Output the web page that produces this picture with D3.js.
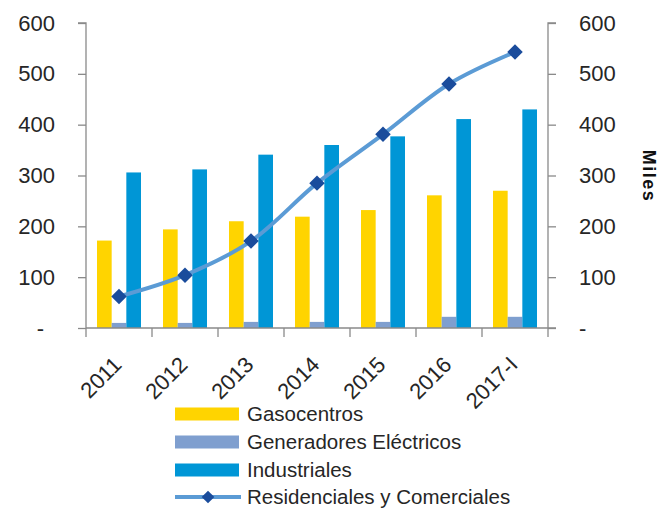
<!DOCTYPE html>
<html>
<head>
<meta charset="utf-8">
<script src="https://cdn.jsdelivr.net/npm/d3@7"></script>
<style>
  body { margin: 0; background: #fff; }
  svg { font-family: "Liberation Sans", Arial, sans-serif; }
</style>
</head>
<body>
<svg id="chart" width="661" height="512"></svg>
<script>
// data
const years = ["2011", "2012", "2013", "2014", "2015", "2016", "2017-I"];
const gasocentros = [172, 194, 210, 219, 232, 261, 270];
const generadores = [10, 10, 12, 12, 12, 22, 22];
const industriales = [306, 312, 341, 360, 377, 411, 430];
const residenciales = [62, 104, 171, 285, 381, 480, 543];
const yTicks = [0, 100, 200, 300, 400, 500, 600];
const seriesNames = ["Gasocentros", "Generadores Eléctricos", "Industriales", "Residenciales y Comerciales"];

const colors = {
  "Gasocentros": "#ffd400",
  "Generadores Eléctricos": "#7f9fcf",
  "Industriales": "#0096d6",
  "Residenciales y Comerciales": "#5b9bd5"
};
const markerColor = "#1a4c9c";
const axisColor = "#8a8a8a";
const textColor = "#262626";

const svg = d3.select("#chart");
const plotLeft = 86, plotRight = 548, plotTop = 23, plotBottom = 328;

const x0 = d3.scaleBand()
  .domain(years)
  .range([plotLeft, plotRight])
  .paddingInner(1 / 3)
  .paddingOuter(1 / 6);

const barKeys = ["Gasocentros", "Generadores Eléctricos", "Industriales"];
const x1 = d3.scaleBand()
  .domain(barKeys)
  .range([0, x0.bandwidth()]);

const y = d3.scaleLinear().domain([0, 600]).range([plotBottom, plotTop]);

const table = years.map((yr, i) => ({
  year: yr,
  "Gasocentros": gasocentros[i],
  "Generadores Eléctricos": generadores[i],
  "Industriales": industriales[i],
  "Residenciales y Comerciales": residenciales[i]
}));

// bars
svg.append("g")
  .selectAll("g")
  .data(table)
  .enter()
  .append("g")
  .attr("transform", d => `translate(${x0(d.year)},0)`)
  .selectAll("rect")
  .data(d => barKeys.map(k => ({ key: k, value: d[k] })))
  .enter()
  .append("rect")
  .attr("x", d => x1(d.key))
  .attr("y", d => y(d.value))
  .attr("width", x1.bandwidth())
  .attr("height", d => y(0) - y(d.value))
  .attr("fill", d => colors[d.key]);

// left axis
const leftAxis = svg.append("g")
  .attr("transform", `translate(${plotLeft},0)`)
  .call(d3.axisLeft(y).tickValues(yTicks).tickSize(8).tickPadding(23)
    .tickFormat(d => d === 0 ? "-" : d));
leftAxis.selectAll("text").filter(d => d === 0).attr("dx", -11);

// right axis
const rightAxis = svg.append("g")
  .attr("transform", `translate(${plotRight},0)`)
  .call(d3.axisRight(y).tickValues(yTicks).tickSize(8).tickPadding(23)
    .tickFormat(d => d === 0 ? "-" : d));

[leftAxis, rightAxis].forEach(ax => {
  ax.select(".domain").attr("stroke", axisColor).attr("stroke-width", 1.3)
    .attr("d", ax === leftAxis ? `M-8,${plotTop}H0V${plotBottom}` : `M8,${plotTop}H0V${plotBottom}`);
  ax.selectAll(".tick line").attr("stroke", axisColor).attr("stroke-width", 1.3);
  ax.selectAll("text").attr("fill", textColor).style("font-size", "22px");
});

// bottom axis: line plus ticks at category boundaries
const xAxis = svg.append("g");
xAxis.append("line")
  .attr("x1", plotLeft).attr("x2", plotRight + 8)
  .attr("y1", plotBottom).attr("y2", plotBottom)
  .attr("stroke", axisColor).attr("stroke-width", 1.3);
const bounds = years.map(d => x0(d) - x0.step() * x0.paddingInner() / 2).concat([plotRight]);
xAxis.selectAll(".xt")
  .data(bounds)
  .enter()
  .append("line")
  .attr("x1", d => d).attr("x2", d => d)
  .attr("y1", plotBottom).attr("y2", plotBottom + 9)
  .attr("stroke", axisColor).attr("stroke-width", 1.3);

xAxis.selectAll(".xl")
  .data(years)
  .enter()
  .append("text")
  .attr("transform", d => `translate(${x0(d) + x0.bandwidth() / 2 + 4},366) rotate(-45)`)
  .attr("text-anchor", "end")
  .attr("fill", textColor)
  .style("font-size", "22px")
  .text(d => d);

// line series
const cx = d => x0(d.year) + x0.bandwidth() / 2;
const line = d3.line()
  .x(cx)
  .y(d => y(d["Residenciales y Comerciales"]))
  .curve(d3.curveCatmullRom.alpha(0.5));

svg.append("path")
  .datum(table)
  .attr("d", line)
  .attr("fill", "none")
  .attr("stroke", colors["Residenciales y Comerciales"])
  .attr("stroke-width", 4)
  .attr("stroke-linecap", "round");

const diamond = d3.symbol().type(d3.symbolSquare).size(120);
svg.append("g")
  .selectAll("path")
  .data(table)
  .enter()
  .append("path")
  .attr("d", diamond)
  .attr("transform", d => `translate(${cx(d)},${y(d["Residenciales y Comerciales"])}) rotate(45)`)
  .attr("fill", markerColor);

// axis title on the right
svg.append("text")
  .attr("transform", "translate(643,176) rotate(90)")
  .attr("text-anchor", "middle")
  .attr("fill", "#111")
  .style("font-size", "18px")
  .style("font-weight", "bold")
  .style("letter-spacing", "1.5px")
  .text("Miles");

// legend
const legendRows = [414, 442, 470, 497];
const legend = svg.append("g");
seriesNames.forEach((name, i) => {
  const ly = legendRows[i];
  if (i < 3) {
    legend.append("rect")
      .attr("x", 175).attr("y", ly - 6.5)
      .attr("width", 64).attr("height", 13)
      .attr("fill", colors[name]);
  } else {
    legend.append("line")
      .attr("x1", 175).attr("x2", 241)
      .attr("y1", ly).attr("y2", ly)
      .attr("stroke", colors[name]).attr("stroke-width", 4);
    legend.append("path")
      .attr("d", d3.symbol().type(d3.symbolSquare).size(80))
      .attr("transform", `translate(208,${ly}) rotate(45)`)
      .attr("fill", markerColor);
  }
  legend.append("text")
    .attr("x", 247).attr("y", ly)
    .attr("dy", "0.36em")
    .attr("fill", textColor)
    .style("font-size", "20.5px")
    .text(name);
});
</script>
</body>
</html>
